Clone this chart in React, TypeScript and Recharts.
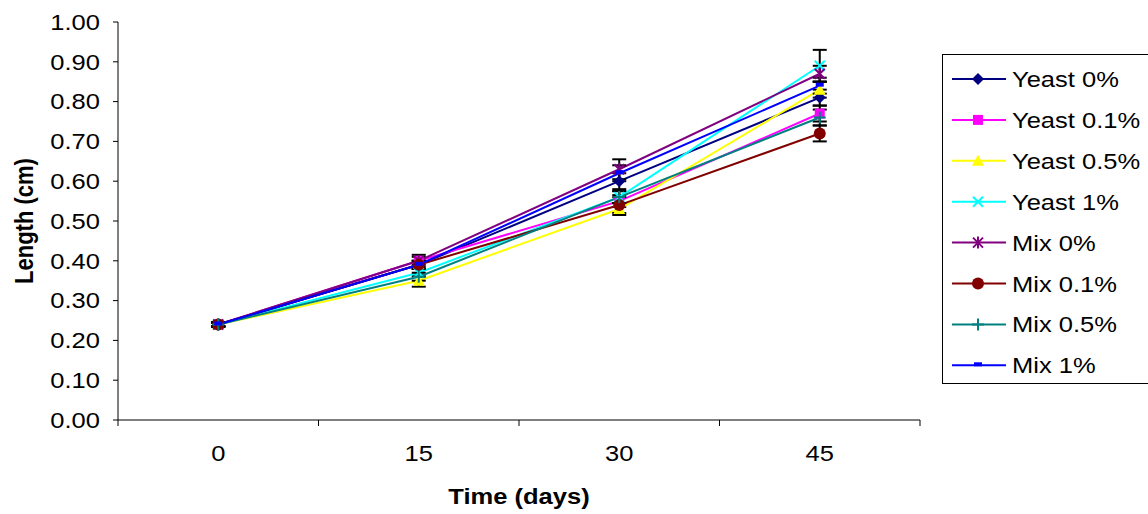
import React from 'react';
import { LineChart, Line, XAxis, YAxis, ErrorBar, Label } from 'recharts';

// 카테고리 (days)
const days = ['0', '15', '30', '45'];
const yTicks = [0, 0.1, 0.2, 0.3, 0.4, 0.5, 0.6, 0.7, 0.8, 0.9, 1.0];

// series values
const yeast0 = [0.24, 0.39, 0.6, 0.81];
const yeast01 = [0.24, 0.4, 0.55, 0.77];
const yeast05 = [0.24, 0.35, 0.53, 0.83];
const yeast1 = [0.24, 0.37, 0.56, 0.89];
const mix0 = [0.24, 0.4, 0.63, 0.87];
const mix01 = [0.24, 0.39, 0.54, 0.72];
const mix05 = [0.24, 0.36, 0.56, 0.76];
const mix1 = [0.24, 0.39, 0.62, 0.84];

// error bar (+/-) values
const yeast0Err = [0.005, 0.01, 0.02, 0.02];
const yeast01Err = [0.005, 0.01, 0.015, 0.02];
const yeast05Err = [0.005, 0.015, 0.015, 0.02];
const yeast1Err = [0.005, 0.01, 0.015, 0.04];
const mix0Err = [0.005, 0.015, 0.025, 0.02];
const mix01Err = [0.005, 0.01, 0.02, 0.02];
const mix05Err = [0.005, 0.01, 0.015, 0.02];
const mix1Err = [0.005, 0.01, 0.02, 0.02];

const series = [
  { name: 'Yeast 0%', values: yeast0, errors: yeast0Err, color: '#000080', marker: 'diamond' },
  { name: 'Yeast 0.1%', values: yeast01, errors: yeast01Err, color: '#FF00FF', marker: 'square' },
  { name: 'Yeast 0.5%', values: yeast05, errors: yeast05Err, color: '#FFFF00', marker: 'triangle' },
  { name: 'Yeast 1%', values: yeast1, errors: yeast1Err, color: '#00FFFF', marker: 'x' },
  { name: 'Mix 0%', values: mix0, errors: mix0Err, color: '#800080', marker: 'star' },
  { name: 'Mix 0.1%', values: mix01, errors: mix01Err, color: '#800000', marker: 'circle' },
  { name: 'Mix 0.5%', values: mix05, errors: mix05Err, color: '#008080', marker: 'plus' },
  { name: 'Mix 1%', values: mix1, errors: mix1Err, color: '#0000FF', marker: 'dash' },
];

const data = days.map((day, i) => {
  const row: Record<string, number | string> = { day };
  series.forEach((s, k) => {
    row[`s${k}`] = s.values[i];
    row[`e${k}`] = s.errors[i];
  });
  return row;
});

const W = 1148;
const H = 514;
const PLOT_LEFT = 118;
const PLOT_RIGHT = 920;
const PLOT_TOP = 22;
const PLOT_BOTTOM = 420;
const FONT = '"Liberation Sans", Arial, sans-serif';
const FS = 22;
const SX = 1.16; // the source picture is stretched a little horizontally

const Marker = ({ shape, cx, cy, color }: { shape: string; cx: number; cy: number; color: string }) => {
  if (cx == null || cy == null) return null;
  switch (shape) {
    case 'diamond':
      return <polygon points={`${cx},${cy - 6} ${cx + 6},${cy} ${cx},${cy + 6} ${cx - 6},${cy}`} fill={color} />;
    case 'square':
      return <rect x={cx - 5} y={cy - 5} width={10} height={10} fill={color} />;
    case 'triangle':
      return <polygon points={`${cx},${cy - 6} ${cx + 6},${cy + 5} ${cx - 6},${cy + 5}`} fill={color} />;
    case 'x':
      return <path d={`M${cx - 5},${cy - 5}L${cx + 5},${cy + 5}M${cx - 5},${cy + 5}L${cx + 5},${cy - 5}`} stroke={color} strokeWidth={2} />;
    case 'star':
      return (
        <path
          d={`M${cx - 5},${cy - 5}L${cx + 5},${cy + 5}M${cx - 5},${cy + 5}L${cx + 5},${cy - 5}M${cx},${cy - 6}L${cx},${cy + 6}`}
          stroke={color}
          strokeWidth={2}
        />
      );
    case 'circle':
      return <circle cx={cx} cy={cy} r={6} fill={color} />;
    case 'plus':
      return <path d={`M${cx - 6},${cy}L${cx + 6},${cy}M${cx},${cy - 6}L${cx},${cy + 6}`} stroke={color} strokeWidth={2} />;
    case 'dash':
      return <rect x={cx - 4} y={cy - 3} width={8} height={4} fill={color} />;
    default:
      return null;
  }
};

const XTick = (props: any) => {
  const { x, y, payload, index } = props;
  const half = (PLOT_RIGHT - PLOT_LEFT) / days.length / 2;
  return (
    <g>
      <line x1={x - half} y1={y} x2={x - half} y2={y + 6} stroke="#000" />
      {index === days.length - 1 && <line x1={x + half} y1={y} x2={x + half} y2={y + 6} stroke="#000" />}
      <text transform={`translate(${x},${y + 41}) scale(${SX},1)`} textAnchor="middle" fontSize={FS} fontFamily={FONT} fill="#000">
        {payload.value}
      </text>
    </g>
  );
};

const YTick = (props: any) => {
  const { x, y, payload } = props;
  return (
    <text transform={`translate(${x},${y}) scale(${SX},1)`} textAnchor="end" dy="0.35em" fontSize={FS} fontFamily={FONT} fill="#000">
      {Number(payload.value).toFixed(2)}
    </text>
  );
};

const LegendBox = () => (
  <svg width={206} height={331} style={{ position: 'absolute', left: 942, top: 54 }}>
    <rect x={0.5} y={0.5} width={260} height={329} fill="#fff" stroke="#000" />
    {series.map((s, i) => {
      const cy = 25 + i * 40.9;
      return (
        <g key={s.name}>
          <line x1={10} y1={cy} x2={64} y2={cy} stroke={s.color} strokeWidth={2} />
          <Marker shape={s.marker} cx={36} cy={cy} color={s.color} />
          <text transform={`translate(70,${cy + 8}) scale(${SX},1)`} fontSize={FS} fontFamily={FONT} fill="#000">
            {s.name}
          </text>
        </g>
      );
    })}
  </svg>
);

export default function App() {
  return (
    <div style={{ position: 'absolute', left: 0, top: 0, width: W, height: H, overflow: 'hidden', background: '#fff' }}>
      <LineChart width={W} height={H} data={data} margin={{ top: PLOT_TOP, right: W - PLOT_RIGHT, bottom: 0, left: 0 }}>
        <XAxis
          dataKey="day"
          scale="band"
          height={H - PLOT_BOTTOM}
          interval={0}
          tickLine={false}
          tickSize={0}
          tickMargin={0}
          axisLine={{ stroke: '#000' }}
          tick={(p: any) => <XTick {...p} />}
        >
          <Label
            content={() => (
              <text
                transform={`translate(${(PLOT_LEFT + PLOT_RIGHT) / 2},504) scale(${SX},1)`}
                textAnchor="middle"
                fontSize={FS}
                fontWeight="bold"
                fontFamily={FONT}
                fill="#000"
              >
                Time (days)
              </text>
            )}
          />
        </XAxis>
        <YAxis
          width={PLOT_LEFT}
          domain={[0, 1]}
          ticks={yTicks}
          interval={0}
          tickSize={5}
          tickMargin={13}
          tickLine={{ stroke: '#000' }}
          axisLine={{ stroke: '#000' }}
          tick={(p: any) => <YTick {...p} />}
        >
          <Label
            content={() => (
              <text
                transform={`translate(33,${(PLOT_TOP + PLOT_BOTTOM) / 2}) scale(${SX},1) rotate(-90)`}
                textAnchor="middle"
                fontSize={FS}
                fontWeight="bold"
                fontFamily={FONT}
                fill="#000"
              >
                Length (cm)
              </text>
            )}
          />
        </YAxis>
        {series.map((s, k) => (
          <Line
            key={s.name}
            dataKey={`s${k}`}
            name={s.name}
            type="linear"
            stroke={s.color}
            strokeWidth={2}
            isAnimationActive={false}
            activeDot={false}
            dot={(p: any) => <Marker key={`${s.name}-${p.index}`} shape={s.marker} cx={p.cx} cy={p.cy} color={s.color} />}
          >
            <ErrorBar dataKey={`e${k}`} width={7} stroke="#000" strokeWidth={2} direction="y" />
          </Line>
        ))}
      </LineChart>
      <LegendBox />
    </div>
  );
}
